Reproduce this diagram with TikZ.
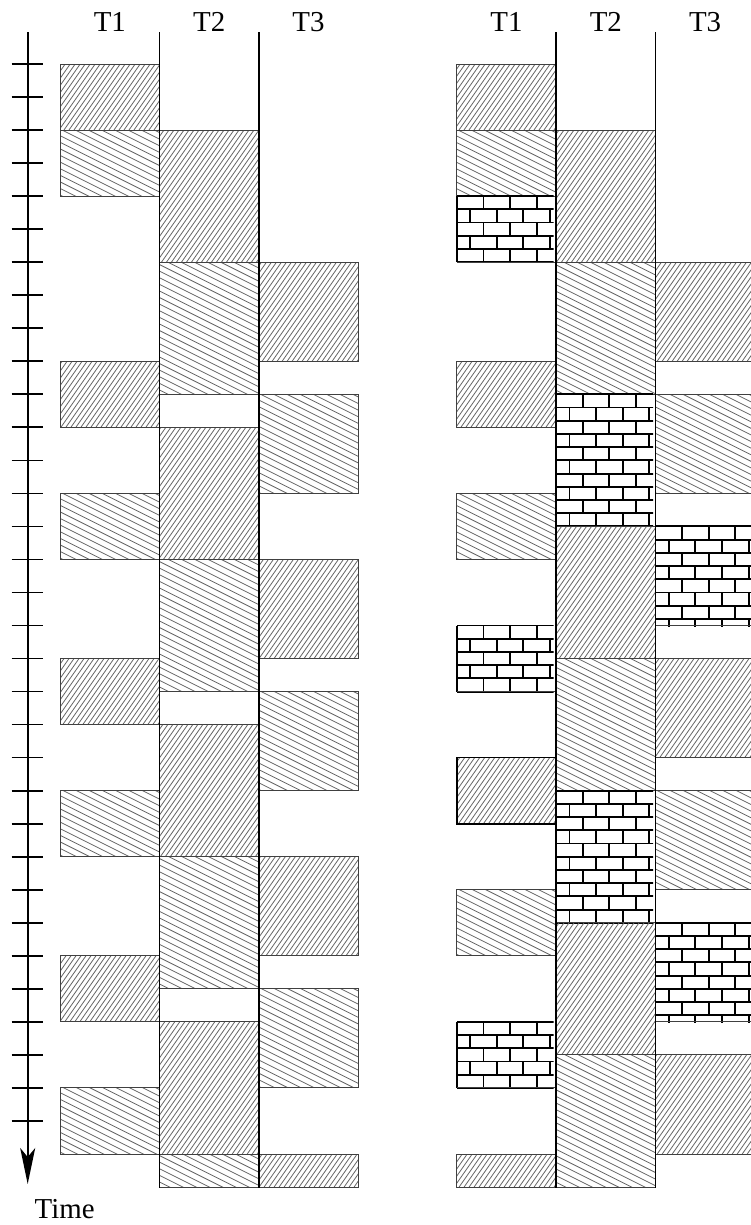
\documentclass[tikz,border=0pt]{standalone}
\usepackage{fontspec}
\setmainfont{Liberation Serif}
\usetikzlibrary{arrows.meta}
\def\Ux{33.1}
\def\Uy{33.03}
\def\rh{13.21}
\def\bw{26.6}
\def\LA{60.2}\def\LB{159.5}\def\LC{258.8}
\def\RA{456.9}\def\RB{556.2}\def\RC{655.5}
\tikzset{
  colline/.style={line width=1.7bp, black},
  hatchline/.style={line width=0.8bp, black!60},
  blockedge/.style={line width=0.9bp, black!75},
  mortar/.style={line width=1.9bp, black},
  lbl/.style={font=\fontsize{29}{29}\selectfont, anchor=base, inner sep=0pt},
}
% "/" hatching
\newcommand\fillA[4]{%
  \begin{scope}
    \clip (#1,#2) rectangle (#3,#4);
    \pgfmathtruncatemacro\kmin{floor((#1+#2*0.7)/5)-1}%
    \pgfmathtruncatemacro\kmax{ceil((#3+#4*0.7)/5)+1}%
    \foreach \k in {\kmin,...,\kmax}{\draw[hatchline] ({\k*5-#4*0.7},#4) -- ({\k*5-#2*0.7},#2);}
  \end{scope}
  \draw[blockedge] (#1,#2) rectangle (#3,#4);}
% "\" hatching
\newcommand\fillB[4]{%
  \begin{scope}
    \clip (#1,#2) rectangle (#3,#4);
    \pgfmathtruncatemacro\kmin{floor((#2-#3*0.5)/6.6)-1}%
    \pgfmathtruncatemacro\kmax{ceil((#4-#1*0.5)/6.6)+1}%
    \foreach \k in {\kmin,...,\kmax}{\draw[hatchline] (#1,{\k*6.6+#1*0.5}) -- (#3,{\k*6.6+#3*0.5});}
  \end{scope}
  \draw[blockedge] (#1,#2) rectangle (#3,#4);}
% bricks
\newcommand\fillC[4]{%
  \begin{scope}
    \clip ({#1-1},{#2-1}) rectangle ({#3-2.5},{#4+1});
    \pgfmathtruncatemacro\nr{ceil((#4-#2)/\rh-0.05)}%
    \pgfmathtruncatemacro\nrm{\nr-1}%
    \foreach \i in {0,...,\nr}{\draw[mortar] (#1,{#2+\i*\rh}) -- (#3,{#2+\i*\rh});}
    \foreach \i in {0,...,\nrm}{
      \pgfmathsetmacro\brickoff{mod(\i,2)*\bw/2}
      \foreach \j in {0,...,3}{
        \draw[mortar] ({#1+\brickoff+\j*\bw},{#2+\i*\rh}) -- ({#1+\brickoff+\j*\bw},{#2+(\i+1)*\rh});}}
  \end{scope}
  \draw[mortar] (#1,#2) -- (#1,#4);
  \draw[blockedge] (#1,#4) -- (#3,#4);}
% "/" hatching with thick edge
\newcommand\fillD[4]{%
  \fillA{#1}{#2}{#3}{#4}%
  \draw[colline] (#1,#2) rectangle (#3,#4);}
\newcommand\blk[4]{%
  \pgfmathsetmacro\bxa{#1}%
  \pgfmathsetmacro\bxb{#1+3*\Ux}%
  \pgfmathsetmacro\bya{64+#2*\Uy}%
  \pgfmathsetmacro\byb{64+#3*\Uy}%
  \csname fill#4\endcsname{\bxa}{\bya}{\bxb}{\byb}}
\begin{document}
\begin{tikzpicture}[x=1bp,y=-1bp]
\useasboundingbox (0,0) rectangle (751,1225);
% ---------- left diagram ----------
\blk{\LA}{0}{2}{A}\blk{\LA}{2}{4}{B}\blk{\LA}{9}{11}{A}\blk{\LA}{13}{15}{B}
\blk{\LA}{18}{20}{A}\blk{\LA}{22}{24}{B}\blk{\LA}{27}{29}{A}\blk{\LA}{31}{33}{B}
\blk{\LB}{2}{6}{A}\blk{\LB}{6}{10}{B}\blk{\LB}{11}{15}{A}\blk{\LB}{15}{19}{B}
\blk{\LB}{20}{24}{A}\blk{\LB}{24}{28}{B}\blk{\LB}{29}{33}{A}\blk{\LB}{33}{34}{B}
\blk{\LC}{6}{9}{A}\blk{\LC}{10}{13}{B}\blk{\LC}{15}{18}{A}\blk{\LC}{19}{22}{B}
\blk{\LC}{24}{27}{A}\blk{\LC}{28}{31}{B}\blk{\LC}{33}{34}{A}
% ---------- right diagram ----------
\blk{\RA}{0}{2}{A}\blk{\RA}{2}{4}{B}\blk{\RA}{4}{6}{C}\blk{\RA}{9}{11}{A}
\blk{\RA}{13}{15}{B}\blk{\RA}{17}{19}{C}\blk{\RA}{21}{23}{D}\blk{\RA}{25}{27}{B}
\blk{\RA}{29}{31}{C}\blk{\RA}{33}{34}{A}
\blk{\RB}{2}{6}{A}\blk{\RB}{6}{10}{B}\blk{\RB}{10}{14}{C}\blk{\RB}{14}{18}{A}
\blk{\RB}{18}{22}{B}\blk{\RB}{22}{26}{C}\blk{\RB}{26}{30}{A}\blk{\RB}{30}{34}{B}
\blk{\RC}{6}{9}{A}\blk{\RC}{10}{13}{B}\blk{\RC}{14}{17}{C}\blk{\RC}{18}{21}{A}
\blk{\RC}{22}{25}{B}\blk{\RC}{26}{29}{C}\blk{\RC}{30}{33}{A}
% ---------- column separators ----------
\coordinate (lbt) at (\LB,32); \coordinate (lbb) at (\LB,1187.5);
\coordinate (lct) at (\LC,32); \coordinate (lcb) at (\LC,1187.5);
\coordinate (rbt) at (\RB,32); \coordinate (rbb) at (\RB,1187.5);
\coordinate (rct) at (\RC,32); \coordinate (rcb) at (\RC,1187.5);
\draw[colline] (lbt) -- (lbb);
\draw[colline] (lct) -- (lcb);
\draw[colline] (rbt) -- (rbb);
\draw[colline] (rct) -- (rcb);
% ---------- time axis ----------
\coordinate (axtop) at (27.7,32);
\coordinate (axend) at (27.7,1184);
\draw[colline,-{Stealth[length=36bp,width=15bp,inset=9bp]}] (axtop) -- (axend);
\foreach \k in {0,...,32}{\draw[colline] (11.7,{64+\k*\Uy}) -- (43.3,{64+\k*\Uy});}
% ---------- labels ----------
\node[lbl] (lt1) at (109.8,31) {T1};
\node[lbl] (lt2) at (209.2,31) {T2};
\node[lbl] (lt3) at (308.5,31) {T3};
\node[lbl] (rt1) at (506.5,31) {T1};
\node[lbl] (rt2) at (605.8,31) {T2};
\node[lbl] (rt3) at (705.1,31) {T3};
\node[lbl,anchor=base west] (time) at (34.5,1218) {Time};
\end{tikzpicture}
\end{document}
